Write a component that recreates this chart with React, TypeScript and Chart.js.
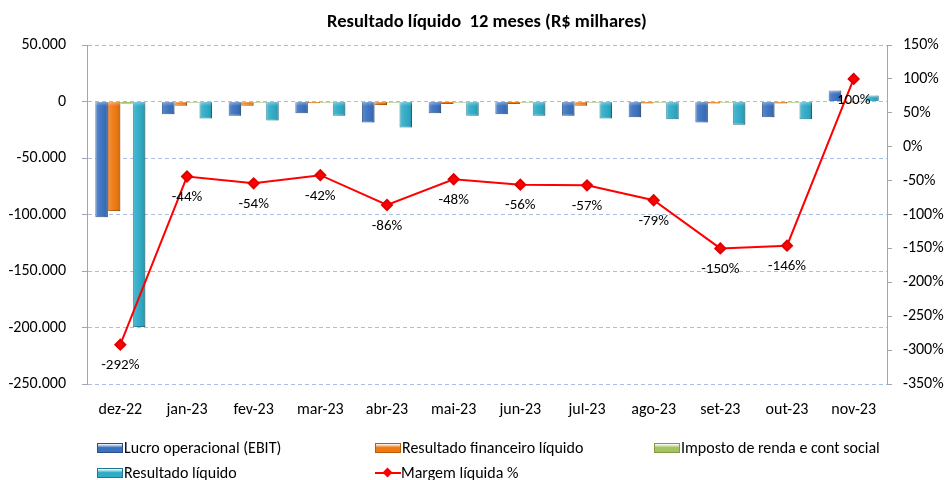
import React, { useEffect, useRef } from "react";
import { Chart, registerables } from "chart.js";

Chart.register(...registerables);

const FONT = "Carlito, Lato, 'Open Sans', sans-serif";

const categories = ["dez-22", "jan-23", "fev-23", "mar-23", "abr-23", "mai-23", "jun-23", "jul-23", "ago-23", "set-23", "out-23", "nov-23"];
const ebit = [-102500, -11200, -12700, -10300, -18600, -10300, -11200, -12700, -14000, -18600, -14000, 9800];
const resultadoFinanceiro = [-97000, -3800, -3800, -1500, -3200, -2300, -2300, -3800, -1800, -1800, -1800, -1000];
const imposto = [-2000, -1000, -1000, -1000, -1000, -1000, -1000, -1000, -1000, -1000, -1000, -800];
const resultadoLiquido = [-199500, -15000, -16800, -12700, -23000, -12700, -12700, -15000, -15600, -20500, -15600, 5300];
const margem = [-292, -44, -54, -42, -86, -48, -56, -57, -79, -150, -146, 100];

const leftTicks = { min: -250000, max: 50000, step: 50000 };
const rightTicks = { min: -350, max: 150, step: 50 };

const fmtThousands = (v: number) => {
  const s = Math.abs(Math.round(v)).toString().replace(/\B(?=(\d{3})+(?!\d))/g, ".");
  return (v < 0 ? "-" : "") + s;
};

const labelPlugin = {
  id: "lineLabels",
  afterDatasetDraw(chart: any, args: any) {
    const meta = args.meta;
    const ctx = chart.ctx;
    if (meta.type === "bar") {
      ctx.save();
      meta.data.forEach((el: any) => {
        const left = el.x - el.width / 2;
        const top = Math.min(el.y, el.base);
        const h = Math.abs(el.base - el.y);
        if (h < 3) return;
        const g = ctx.createLinearGradient(left, 0, left + el.width, 0);
        g.addColorStop(0, "rgba(255,255,255,0.18)");
        g.addColorStop(0.35, "rgba(255,255,255,0.05)");
        g.addColorStop(0.8, "rgba(0,0,0,0.05)");
        g.addColorStop(1, "rgba(0,0,0,0.2)");
        ctx.fillStyle = g;
        ctx.fillRect(left, top, el.width, h);
        const bev = Math.min(4, h / 2);
        const g2 = ctx.createLinearGradient(0, top, 0, top + bev);
        g2.addColorStop(0, "rgba(255,255,255,0.35)");
        g2.addColorStop(1, "rgba(255,255,255,0)");
        ctx.fillStyle = g2;
        ctx.fillRect(left, top, el.width, bev);
      });
      ctx.restore();
      return;
    }
    ctx.save();
    ctx.font = `15px ${FONT}`;
    ctx.fillStyle = "#000";
    ctx.textAlign = "center";
    ctx.textBaseline = "middle";
    meta.data.forEach((pt: any, i: number) => {
      ctx.fillText(margem[i] + "%", pt.x, pt.y + 21);
    });
    ctx.restore();
  },
};

export default function App() {
  const ref = useRef<HTMLCanvasElement>(null);
  useEffect(() => {
    if (!ref.current) return;
    const barCommon = { categoryPercentage: 0.75, barPercentage: 1, borderWidth: 1, yAxisID: "y", order: 1 };
    const chart = new Chart(ref.current, {
      type: "bar",
      data: {
        labels: categories,
        datasets: [
          { ...barCommon, label: "Lucro operacional (EBIT)", data: ebit, backgroundColor: "#3B72C0", borderColor: "#2A4F88" } as any,
          { ...barCommon, label: "Resultado financeiro líquido", data: resultadoFinanceiro, backgroundColor: "#F07A12", borderColor: "#B65C08" },
          { ...barCommon, label: "Imposto de renda e cont social", data: imposto, backgroundColor: "#A4C464", borderColor: "#8FAE55" },
          { ...barCommon, label: "Resultado líquido", data: resultadoLiquido, backgroundColor: "#2FACC8", borderColor: "#1D7A90" },
          {
            type: "line",
            label: "Margem líquida %",
            data: margem,
            yAxisID: "y1",
            borderColor: "#FF0000",
            backgroundColor: "#FF0000",
            borderWidth: 2,
            pointStyle: "rectRot",
            pointRadius: 5,
            pointBackgroundColor: "#FF0000",
            pointBorderColor: "#E00000",
            tension: 0,
            order: 0,
          } as any,
        ],
      },
      options: {
        responsive: false,
        animation: false,
        layout: { padding: { top: 45, bottom: 0, left: 0, right: 0 } },
        plugins: { legend: { display: false }, title: { display: false }, tooltip: { enabled: false } },
        scales: {
          x: {
            grid: { display: false, drawTicks: false },
            border: { display: false },
            ticks: { color: "#000", font: { family: FONT, size: 16 }, padding: 16, maxRotation: 0, autoSkip: false },
            afterFit: (s: any) => { s.height = 96; },
          },
          y: {
            position: "left",
            min: leftTicks.min,
            max: leftTicks.max,
            ticks: { stepSize: leftTicks.step, color: "#000", font: { family: FONT, size: 16 }, padding: 16, callback: (v: any) => fmtThousands(Number(v)) },
            grid: { color: "#A9BCE3", lineWidth: 1, tickLength: 5, tickColor: "#A6A6A6", drawTicks: true } as any,
            border: { display: true, color: "#A6A6A6", dash: [4, 3] } as any,
            afterFit: (s: any) => { s.width = 87; },
          },
          y1: {
            position: "right",
            min: rightTicks.min,
            max: rightTicks.max,
            ticks: { stepSize: rightTicks.step, color: "#000", font: { family: FONT, size: 16 }, padding: 11, callback: (v: any) => v + "%" },
            grid: { drawOnChartArea: false, tickLength: 5, tickColor: "#A6A6A6" },
            border: { display: true, color: "#A6A6A6" },
            afterFit: (s: any) => { s.width = 57; },
          },
        },
      },
      plugins: [labelPlugin],
    });
    return () => chart.destroy();
  }, []);

  const legendText: React.CSSProperties = { position: "absolute", fontFamily: FONT, fontSize: 16, color: "#000", lineHeight: "18px", whiteSpace: "nowrap" };
  const box = (color: string, border: string): React.CSSProperties => ({
    display: "inline-block", width: 24, height: 8, background: `linear-gradient(to bottom, #ffffff66, ${color} 45%, ${color})`, border: `1px solid ${border}`, verticalAlign: "middle", marginRight: 1, marginTop: -3,
  });
  const item = (left: number, top: number, content: React.ReactNode, text: string) => (
    <div style={{ ...legendText, left, top: top - 9 }}>
      {content}
      {text}
    </div>
  );

  return (
    <div style={{ position: "fixed", left: 0, top: 0, width: 944, height: 480, background: "#fff" }}>
      <canvas ref={ref} width={944} height={480} style={{ position: "absolute", left: 0, top: 0 }} />
      <div style={{ position: "absolute", left: 0, width: 974, top: 9, textAlign: "center", fontFamily: FONT, fontWeight: "bold", fontSize: 18.5, color: "#000", whiteSpace: "pre" }}>
        {"Resultado líquido  12 meses (R$ milhares)"}
      </div>
      {item(97, 448, <span style={box("#3B72C0", "#2A4F88")} />, "Lucro operacional (EBIT)")}
      {item(375, 448, <span style={box("#F07A12", "#B65C08")} />, "Resultado financeiro líquido")}
      {item(654, 448, <span style={box("#A4C464", "#7F9B45")} />, "Imposto de renda e cont social")}
      {item(97, 473, <span style={box("#2FACC8", "#1D7A90")} />, "Resultado líquido")}
      {item(
        375,
        473,
        <span style={{ display: "inline-block", position: "relative", width: 26, height: 12, verticalAlign: "middle", marginTop: -3 }}>
          <span style={{ position: "absolute", left: 0, top: 5, width: 26, height: 2, background: "#FF0000" }} />
          <span style={{ position: "absolute", left: 9, top: 2, width: 7, height: 7, background: "#FF0000", transform: "rotate(45deg)" }} />
        </span>,
        "Margem líquida %"
      )}
    </div>
  );
}
